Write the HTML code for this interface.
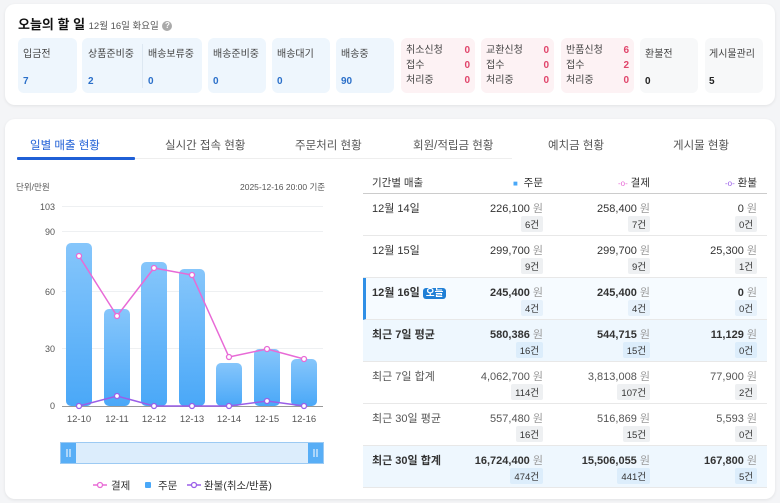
<!DOCTYPE html>
<html><head><meta charset="utf-8"><style>
*{box-sizing:border-box;margin:0;padding:0}
body{width:780px;height:503px;background:#f4f5f7;font-family:"Liberation Sans","Noto Sans CJK KR",sans-serif;position:relative;overflow:hidden;color:#333}
.card{position:absolute;background:#fff;border-radius:10px;box-shadow:0 1px 3px rgba(0,0,0,.08)}
.ab{position:absolute}
.box{position:absolute;top:38px;height:55px;border-radius:6px;font-size:10px;color:#444}
.blue{background:#eef6fd}
.pink{background:#fdf2f4}
.gray{background:#f7f8f9}
.v{font-weight:bold;color:#2a6fc9;font-size:10px}
.tab{position:absolute;top:137px;font-size:11.5px;color:#555}
.row{position:absolute;left:363px;width:404px;height:42px;border-bottom:1px solid #e8e8e8;font-size:11px}
.row .lbl{position:absolute;left:9px;top:6px}
.amt{position:absolute;top:6px;text-align:right;white-space:nowrap}
.amt span{color:#999;font-weight:normal}
.bd{position:absolute;top:22px;font-size:9.5px;background:#eef0f2;padding:1px 4px;border-radius:2px;font-weight:normal;color:#333}
.hl{background:#eef7fe}
.hl .bd{background:#dcedfb}
</style></head><body>
<div class="card" style="left:5px;top:4px;width:770px;height:101px"></div>
<div class="ab" style="left:18px;top:14px;font-size:13px;font-weight:bold;color:#111">오늘의 할 일 <span style="font-size:9.5px;font-weight:normal;color:#555">12월 16일 화요일</span> <span style="display:inline-block;width:10px;height:10px;border-radius:5px;background:#aaa;color:#fff;font-size:8px;text-align:center;line-height:10px;vertical-align:1px">?</span></div>

<div class="box blue" style="left:18px;width:59px"><div class="ab" style="left:5px;top:7px">입금전</div><div class="ab v" style="left:5px;top:38px">7</div></div>
<div class="box blue" style="left:82px;width:120px"><div class="ab" style="left:6px;top:7px">상품준비중</div><div class="ab v" style="left:6px;top:38px">2</div><div class="ab" style="left:60px;top:6px;width:1px;height:44px;background:#dde8f2"></div><div class="ab" style="left:66px;top:7px">배송보류중</div><div class="ab v" style="left:66px;top:38px">0</div></div>
<div class="box blue" style="left:208px;width:58px"><div class="ab" style="left:5px;top:7px">배송준비중</div><div class="ab v" style="left:5px;top:38px">0</div></div>
<div class="box blue" style="left:272px;width:58px"><div class="ab" style="left:5px;top:7px">배송대기</div><div class="ab v" style="left:5px;top:38px">0</div></div>
<div class="box blue" style="left:336px;width:58px"><div class="ab" style="left:5px;top:7px">배송중</div><div class="ab v" style="left:5px;top:38px">90</div></div>
<div class="box pink" style="left:401px;width:74px;line-height:15px"><div class="ab" style="left:5px;top:5px">취소신청<br>접수<br>처리중</div><div class="ab v" style="right:5px;top:5px;color:#e0446a">0<br>0<br>0</div></div>
<div class="box pink" style="left:481px;width:73px;line-height:15px"><div class="ab" style="left:5px;top:5px">교환신청<br>접수<br>처리중</div><div class="ab v" style="right:5px;top:5px;color:#e0446a">0<br>0<br>0</div></div>
<div class="box pink" style="left:561px;width:73px;line-height:15px"><div class="ab" style="left:5px;top:5px">반품신청<br>접수<br>처리중</div><div class="ab v" style="right:5px;top:5px;color:#e0446a">6<br>2<br>0</div></div>
<div class="box gray" style="left:640px;width:58px"><div class="ab" style="left:5px;top:7px">환불전</div><div class="ab v" style="left:5px;top:38px;color:#222">0</div></div>
<div class="box gray" style="left:705px;width:58px"><div class="ab" style="left:4px;top:7px">게시물관리</div><div class="ab v" style="left:4px;top:38px;color:#222">5</div></div>

<div class="card" style="left:5px;top:119px;width:770px;height:380px"></div>
<div class="tab" style="left:30px;color:#1f5fd6">일별 매출 현황</div>
<div class="ab" style="left:17px;top:157px;width:118px;height:3px;background:#1f5fd6;border-radius:1px"></div>
<div class="ab" style="left:135px;top:158px;width:377px;height:1px;background:#eee"></div>
<div class="tab" style="left:165px">실시간 접속 현황</div>
<div class="tab" style="left:295px">주문처리 현황</div>
<div class="tab" style="left:413px">회원/적립금 현황</div>
<div class="tab" style="left:548px">예치금 현황</div>
<div class="tab" style="left:673px">게시물 현황</div>

<div class="ab" style="left:16px;top:181px;font-size:8.5px;color:#555">단위/만원</div>
<div class="ab" style="left:240px;top:181px;font-size:8.5px;color:#555">2025-12-16 20:00 기준</div>

<svg class="ab" style="left:0;top:0" width="360" height="503">
<defs><linearGradient id="g" x1="0" y1="0" x2="0" y2="1"><stop offset="0" stop-color="#86c6fb"/><stop offset="1" stop-color="#4aa8f8"/></linearGradient></defs>
<g stroke="#eef0f2" stroke-width="1">
<line x1="62" x2="323" y1="206.5" y2="206.5"/><line x1="62" x2="323" y1="231.5" y2="231.5"/><line x1="62" x2="323" y1="291.5" y2="291.5"/><line x1="62" x2="323" y1="348.5" y2="348.5"/></g>
<g font-size="9" fill="#555" text-anchor="end" font-family="Liberation Sans, sans-serif">
<text x="55" y="210">103</text><text x="55" y="235">90</text><text x="55" y="295">60</text><text x="55" y="352">30</text><text x="55" y="409">0</text></g>
<g fill="url(#g)">
<rect x="66" y="243" width="26" height="163" rx="5"/>
<rect x="104" y="309" width="26" height="97" rx="5"/>
<rect x="141" y="262" width="26" height="144" rx="5"/>
<rect x="179" y="269" width="26" height="137" rx="5"/>
<rect x="216" y="363" width="26" height="43" rx="5"/>
<rect x="254" y="349" width="26" height="57" rx="5"/>
<rect x="291" y="359" width="26" height="47" rx="5"/></g>
<line x1="62" x2="323" y1="406.5" y2="406.5" stroke="#999"/>
<polyline fill="none" stroke="#e86ad6" stroke-width="1.5" points="79,256 117,316 154,268 192,275 229,357 267,349 304,359"/>
<g fill="#fff" stroke="#e86ad6" stroke-width="1.3"><circle cx="79" cy="256" r="2.5"/><circle cx="117" cy="316" r="2.5"/><circle cx="154" cy="268" r="2.5"/><circle cx="192" cy="275" r="2.5"/><circle cx="229" cy="357" r="2.5"/><circle cx="267" cy="349" r="2.5"/><circle cx="304" cy="359" r="2.5"/></g>
<polyline fill="none" stroke="#9a5ee8" stroke-width="1.5" points="79,406 117,396 154,406 192,406 229,406 267,401 304,406"/>
<g fill="#fff" stroke="#9a5ee8" stroke-width="1.3"><circle cx="79" cy="406" r="2.5"/><circle cx="117" cy="396" r="2.5"/><circle cx="154" cy="406" r="2.5"/><circle cx="192" cy="406" r="2.5"/><circle cx="229" cy="406" r="2.5"/><circle cx="267" cy="401" r="2.5"/><circle cx="304" cy="406" r="2.5"/></g>
<g font-size="9.5" fill="#555" text-anchor="middle" font-family="Liberation Sans, sans-serif">
<text x="79" y="422">12-10</text><text x="117" y="422">12-11</text><text x="154" y="422">12-12</text><text x="192" y="422">12-13</text><text x="229" y="422">12-14</text><text x="267" y="422">12-15</text><text x="304" y="422">12-16</text></g>
<rect x="60.5" y="442.5" width="263" height="21" fill="#dcedfc" stroke="#9ccaf3"/>
<rect x="61" y="443" width="15" height="20" fill="#58aef6"/><rect x="308" y="443" width="15" height="20" fill="#58aef6"/>
<g stroke="#fff" stroke-width="1"><line x1="67" x2="67" y1="449" y2="457"/><line x1="70" x2="70" y1="449" y2="457"/><line x1="314" x2="314" y1="449" y2="457"/><line x1="317" x2="317" y1="449" y2="457"/></g>
<line x1="93" x2="107" y1="485" y2="485" stroke="#e86ad6" stroke-width="1.5"/><circle cx="100" cy="485" r="2.5" fill="#fff" stroke="#e86ad6" stroke-width="1.3"/>
<rect x="145" y="482" width="6" height="6" fill="#4aa8f8" rx="1"/>
<line x1="187" x2="201" y1="485" y2="485" stroke="#9a5ee8" stroke-width="1.5"/><circle cx="194" cy="485" r="2.5" fill="#fff" stroke="#9a5ee8" stroke-width="1.3"/>
<g font-size="10.5" fill="#333" font-family="Liberation Sans, Noto Sans CJK KR, sans-serif"><text x="111" y="489">결제</text><text x="158" y="489">주문</text><text x="204" y="489">환불(취소/반품)</text></g>
</svg>

<div class="ab" style="left:363px;top:170px;width:404px;height:24px;border-bottom:1px solid #ccc;font-size:10.5px">
<div class="ab" style="left:9px;top:5px">기간별 매출</div>
<div class="ab" style="right:224px;top:5px"><span style="color:#4aa8f8;font-size:8px">■</span>&nbsp; 주문</div>
<div class="ab" style="right:117px;top:5px"><span style="color:#e86ad6;font-size:8px">-o-</span> 결제</div>
<div class="ab" style="right:10px;top:5px"><span style="color:#9a5ee8;font-size:8px">-o-</span> 환불</div>
</div>

<div class="row" style="top:194px"><div class="lbl">12월 14일</div>
<div class="amt" style="right:224px">226,100 <span>원</span></div><div class="bd" style="right:224px">6건</div>
<div class="amt" style="right:117px">258,400 <span>원</span></div><div class="bd" style="right:117px">7건</div>
<div class="amt" style="right:10px">0 <span>원</span></div><div class="bd" style="right:10px">0건</div></div>
<div class="row" style="top:236px"><div class="lbl">12월 15일</div>
<div class="amt" style="right:224px">299,700 <span>원</span></div><div class="bd" style="right:224px">9건</div>
<div class="amt" style="right:117px">299,700 <span>원</span></div><div class="bd" style="right:117px">9건</div>
<div class="amt" style="right:10px">25,300 <span>원</span></div><div class="bd" style="right:10px">1건</div></div>
<div class="row" style="top:278px;background:#f6fbff;font-weight:bold;border-left:3px solid #2f8fe6"><div class="lbl" style="left:6px">12월 16일 <span style="background:#1f7fd6;color:#fff;padding:0 3px;border-radius:3px;font-size:9.5px">오늘</span></div>
<div class="amt" style="right:224px">245,400 <span>원</span></div><div class="bd" style="right:224px;background:#e6f1fb">4건</div>
<div class="amt" style="right:117px">245,400 <span>원</span></div><div class="bd" style="right:117px;background:#e6f1fb">4건</div>
<div class="amt" style="right:10px">0 <span>원</span></div><div class="bd" style="right:10px;background:#e6f1fb">0건</div></div>
<div class="row hl" style="top:320px;font-weight:bold"><div class="lbl">최근 7일 평균</div>
<div class="amt" style="right:224px">580,386 <span>원</span></div><div class="bd" style="right:224px">16건</div>
<div class="amt" style="right:117px">544,715 <span>원</span></div><div class="bd" style="right:117px">15건</div>
<div class="amt" style="right:10px">11,129 <span>원</span></div><div class="bd" style="right:10px">0건</div></div>
<div class="row" style="top:362px;color:#555"><div class="lbl">최근 7일 합계</div>
<div class="amt" style="right:224px">4,062,700 <span>원</span></div><div class="bd" style="right:224px">114건</div>
<div class="amt" style="right:117px">3,813,008 <span>원</span></div><div class="bd" style="right:117px">107건</div>
<div class="amt" style="right:10px">77,900 <span>원</span></div><div class="bd" style="right:10px">2건</div></div>
<div class="row" style="top:404px;color:#555"><div class="lbl">최근 30일 평균</div>
<div class="amt" style="right:224px">557,480 <span>원</span></div><div class="bd" style="right:224px">16건</div>
<div class="amt" style="right:117px">516,869 <span>원</span></div><div class="bd" style="right:117px">15건</div>
<div class="amt" style="right:10px">5,593 <span>원</span></div><div class="bd" style="right:10px">0건</div></div>
<div class="row hl" style="top:446px;font-weight:bold"><div class="lbl">최근 30일 합계</div>
<div class="amt" style="right:224px">16,724,400 <span>원</span></div><div class="bd" style="right:224px">474건</div>
<div class="amt" style="right:117px">15,506,055 <span>원</span></div><div class="bd" style="right:117px">441건</div>
<div class="amt" style="right:10px">167,800 <span>원</span></div><div class="bd" style="right:10px">5건</div></div>
</body></html>
